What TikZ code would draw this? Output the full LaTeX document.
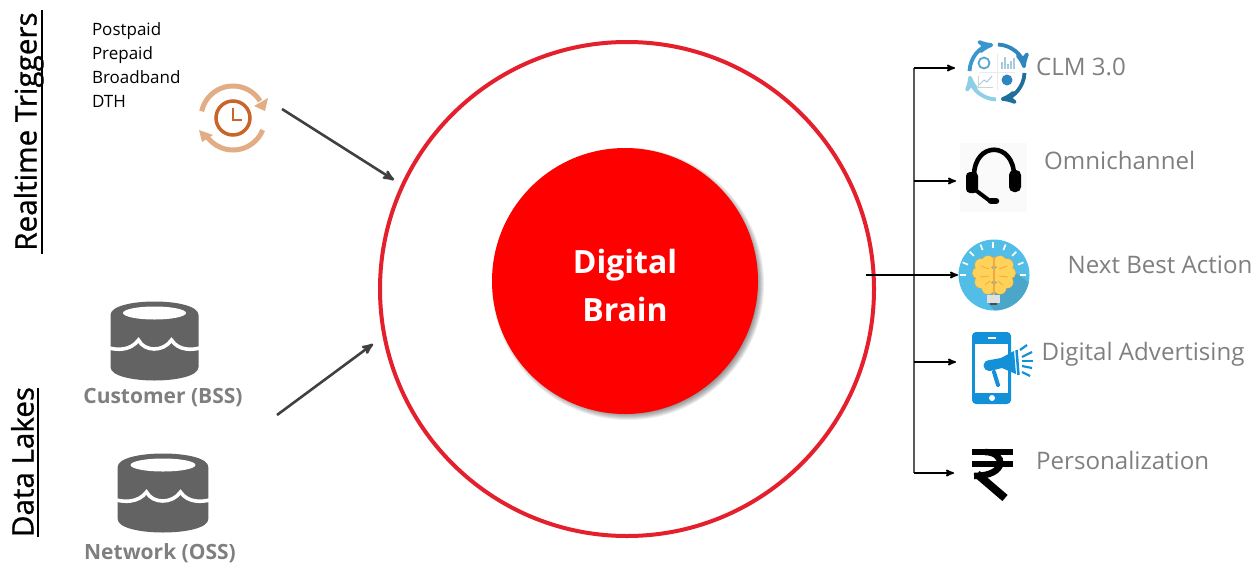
\documentclass[tikz,border=0pt]{standalone}
\usepackage{fontspec}
\setmainfont{Open Sans}
\newfontfamily\headfont[FakeBold=0.9]{Open Sans}
\usepackage{xcolor}
\usetikzlibrary{arrows,positioning}

\definecolor{ringred}{HTML}{E3202C}
\definecolor{labelgray}{HTML}{7F7F7F}
\definecolor{dbgray}{HTML}{636363}
\definecolor{clockdark}{HTML}{C8662A}
\definecolor{clocklight}{HTML}{E2AC85}
\definecolor{phoneblue}{HTML}{1290D8}
\definecolor{skyblue}{HTML}{52BEE8}
\definecolor{skyshade}{HTML}{4BA6C9}
\definecolor{brainfill}{HTML}{FFD25A}
\definecolor{brainline}{HTML}{F2A93B}
\definecolor{clmtop}{HTML}{3A96CE}
\definecolor{clmright}{HTML}{2F86BF}
\definecolor{clmbottom}{HTML}{1F6E9C}
\definecolor{clmleft}{HTML}{8CCFE6}
\definecolor{clmpale}{HTML}{A9C9DE}

\tikzset{
  headtext/.style={font=\headfont\fontsize{29.6}{31}\selectfont, rotate=90, inner sep=0pt},
  listtext/.style={font=\fontsize{17}{20}\selectfont, text width=100pt, align=left, inner sep=0pt, text height=13pt, text depth=4pt},
  sourcetext/.style={font=\fontsize{21}{24}\bfseries\selectfont, text=labelgray, inner sep=0pt},
  sinktext/.style={font=\fontsize{24.1}{28}\selectfont, text=labelgray, anchor=base west, inner sep=0pt},
  feed/.style={->, >=stealth', line width=2.6pt, draw=black!75},
  branch/.style={->, >=stealth', line width=1.7pt, draw=black},
  clmarc/.style={line width=3.8pt, -stealth'},
  pics/dbicon/.style={code={
    \fill[dbgray] (-44,-26) .. controls (-44,-44) and (44,-44) .. (44,-26)
      -- (44,26) .. controls (44,44) and (-44,44) .. (-44,26) -- cycle;
    \fill[white] (0,-28) ellipse[x radius=31.5pt, y radius=6.5pt];
    \draw[white, line width=3.6pt] (-45,7) .. controls (-38,9) and (-24,10) .. (-16,-1)
      .. controls (-10,11) and (9,11) .. (17,-1) .. controls (24,10) and (38,9) .. (45,7);
  }},
}

\begin{document}
\begin{tikzpicture}[x=1pt, y=-1pt]
\useasboundingbox (0,0) rectangle (1260,565);

\node[circle, draw=ringred, line width=4pt, minimum size=494pt, inner sep=0pt] (ring) at (627,289) {};
\foreach \rad in {136,135,...,130}
  \fill[black, opacity=.07] (628,284) circle[radius=\rad pt];
\node[circle, fill=red, minimum size=266pt, inner sep=0pt, align=center, text=white,
      font=\fontsize{32}{48}\bfseries\selectfont] (brain) at (625,281) {\rule{0pt}{33pt}Digital\\Brain};

\node[headtext, anchor=base] (realtime) at (36.5,131.5) {Realtime Triggers};
\node[headtext, anchor=base] (lakes)    at (33.5,462) {Data Lakes};
\draw[line width=2pt] (42,10) -- (42,254);
\draw[line width=2pt] (38,388) -- (38,537);

\node[listtext] (postpaid) at (142,30.5) {Postpaid};
\node[listtext] (prepaid)   [below of = postpaid, node distance=24pt] {Prepaid};
\node[listtext] (broadband) [below of = prepaid, node distance=24pt]  {Broadband};
\node[listtext] (dth)       [below of = broadband, node distance=24pt] {DTH};

% clock
\coordinate (clock) at (233,118);
\draw[clockdark, line width=3.5pt] (clock) circle[radius=17pt];
\draw[clockdark, line width=2.5pt] (233,108) -- (233,120) -- (242,120);
\draw[clocklight, line width=5pt] ([shift={(168:32pt)}]clock) arc[start angle=168, end angle=32, radius=32pt];
\draw[clocklight, line width=5pt] ([shift={(-22:32pt)}]clock) arc[start angle=-22, end angle=-150, radius=32pt];
\fill[clocklight] (268,98) -- (265,111) -- (254,106) -- cycle;
\fill[clocklight] (199,130) -- (202,142) -- (213,135) -- cycle;

% databases
\pic (bss) at (154.5,341) {dbicon};
\pic[xscale=1.03] (oss) at (163,493) {dbicon};
\node[sourcetext] (customer) at (163,398) {Customer (BSS)};
\node[sourcetext] (network)  at (160,553) {Network (OSS)};

\coordinate (clockout) at (282,109);
\coordinate (clockin)  at (394,180);
\coordinate (dbout)    at (277,415);
\coordinate (dbin)     at (373,344);
\draw[feed] (clockout) -- (clockin);
\draw[feed] (dbout) -- (dbin);

\coordinate (brainout) at (866,275);
\coordinate (trunktop) at (914,68);
\coordinate (trunkbot) at (914,473);
\coordinate (clmin)    at (955,68);
\coordinate (omniin)   at (956,181);
\coordinate (nbain)    at (958,275);
\coordinate (advin)    at (956,362);
\coordinate (persin)   at (954,473);
\coordinate (omnitap)  at (914,181);
\coordinate (advtap)   at (914,362);

\draw[line width=1.5pt, draw=black!65] (trunktop) -- (trunkbot);
\draw[branch] (trunktop) -- (clmin);
\draw[branch] (omnitap) -- (omniin);
\draw[branch] (brainout) -- (nbain);
\draw[branch] (advtap) -- (advin);
\draw[branch] (trunkbot) -- (persin);

% CLM icon
\coordinate (clm) at (997,72);
\draw[black!8, line width=.8pt] (997,54) -- (997,90) (979,72) -- (1015,72);
\draw[clmarc, clmleft]   ([shift={(-92:27.5pt)}]clm) arc[start angle=-92, end angle=-172, radius=27.5pt];
\draw[clmarc, clmtop]    ([shift={(178:27.5pt)}]clm) arc[start angle=178, end angle=98, radius=27.5pt];
\draw[clmarc, clmright]  ([shift={(88:27.5pt)}]clm) arc[start angle=88, end angle=8, radius=27.5pt];
\draw[clmarc, clmbottom] ([shift={(-2:27.5pt)}]clm) arc[start angle=-2, end angle=-82, radius=27.5pt];
\draw[clmtop!85, line width=1.8pt] (984,63) circle[radius=5.5pt];
\foreach \xbar/\hbar in {1002/7,1005/12,1008/5,1011/8,1014/11}
  \draw[clmpale, line width=2.2pt] (\xbar,69) -- ++(0,-\hbar);
\draw[black!18, line width=1pt] (978,87) -- (993,87) (978,87) -- (978,76);
\draw[clmpale, line width=1pt] (979,85) -- (984,80) -- (987,82) -- (992,76);
\fill[clmright] (1007,80) circle[radius=5.5pt];

% headset
\fill[black!2] (960,143) rectangle (1027,212);
\draw[line width=4.6pt] (974,176) .. controls (974,141) and (1014,141) .. (1014,176);
\fill[rounded corners=4pt] (966,172) rectangle (978,193);
\fill[rounded corners=5pt] (1009,170) rectangle (1021,192);
\draw[line width=4pt] (974,189) -- (990,201);
\draw[line width=6.5pt, line cap=round] (991,201) -- (996,201);

% idea icon
\fill[skyblue] (994,275) circle[radius=35.5pt];
\begin{scope}
\clip (994,275) circle[radius=35.5pt];
\fill[skyshade] (1012,270) -- (1036,288) -- (1024,315) -- (998,315) -- (988,303) -- cycle;
\end{scope}
\foreach \ang in {0,22.5,...,180}
  \draw[white, line width=1.6pt] ([shift={(\ang:27pt)}]993,275) -- ([shift={(\ang:33pt)}]993,275);
\fill[black!12] (987,295) rectangle (1000,303);
\fill[black!70] (990,303) rectangle (997,305);
\foreach \xb/\yb/\rb in {988/262/6,981/265/6,978/273/5.5,981/282/6,988/288/6,1000/262/6,1007/265/6,1010/273/5.5,1007/282/6,1000/288/6}
  \draw[brainline, line width=1pt] (\xb,\yb) circle[radius=\rb pt];
\foreach \xb/\yb/\rb in {988/262/6,981/265/6,978/273/5.5,981/282/6,988/288/6,1000/262/6,1007/265/6,1010/273/5.5,1007/282/6,1000/288/6,986/275/9,1002/275/9}
  \fill[brainfill] (\xb,\yb) circle[radius=\rb pt];
\draw[brainline, line width=1.6pt] (994,257) -- (994,295);
\draw[brainline, line width=.8pt] (981,266) -- (989,269) (980,277) -- (989,276) (985,285) -- (990,281)
  (1007,266) -- (999,269) (1008,277) -- (999,276) (1003,285) -- (998,281);

% phone icon
\fill[phoneblue, rounded corners=4pt] (972,332) rectangle (1011,404);
\fill[white] (975,344) rectangle (1008,393);
\fill[white] (988,337) rectangle (996,339);
\fill[white] (992,398) circle[radius=3pt];
\fill[phoneblue] (990,360) -- (1001,358) -- (1014,351) -- (1016,374) -- (1002,368) -- (990,371) -- cycle;
\fill[phoneblue] (989,365.5) circle[radius=5.5pt];
\draw[phoneblue, line width=4pt, line cap=round] (994,372) -- (998,385);
\draw[phoneblue, line width=2.5pt] (1016.5,350) -- (1018.5,375);
\foreach \xa/\ya/\xb/\yb in {1020/350/1027/345, 1022/357/1032/352, 1022/361/1033/361, 1022/366/1032/368, 1022/372/1030/376}
  \draw[phoneblue, line width=2.2pt] (\xa,\ya) -- (\xb,\yb);

% rupee icon
\draw[line width=6pt] (972,452) -- (1013,452);
\draw[line width=6pt] (972,464) -- (1013,464);
\draw[line width=6.5pt] (985,452) .. controls (1006,452) and (1008,476) .. (974,476);
\draw[line width=8pt] (977,474) -- (1005,498);

\node[sinktext] (clm3)   at (1036,75)  {CLM 3.0};
\node[sinktext] (omni)   at (1044,169) {Omnichannel};
\node[sinktext] (nba)    at (1067.5,273) {Next Best Action};
\node[sinktext] (advert) at (1041.5,360) {Digital Advertising};
\node[sinktext] (perso)  at (1036,469) {Personalization};

\end{tikzpicture}
\end{document}
